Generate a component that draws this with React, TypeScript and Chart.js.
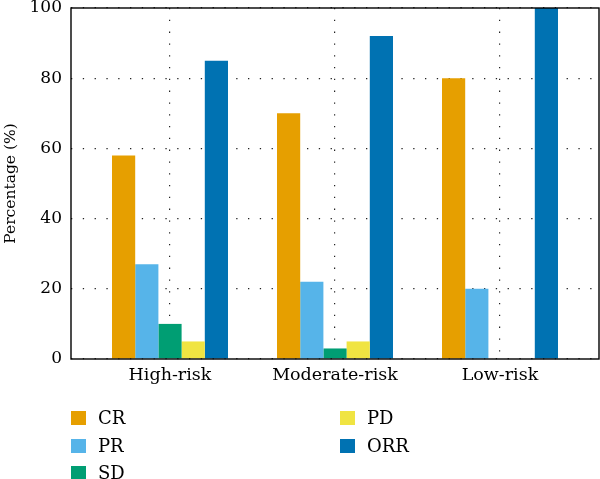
import React, { useEffect, useRef } from "react";
import { Chart, registerables } from "chart.js";

Chart.register(...registerables);

// Response rates by risk group
const categories = ["High-risk", "Moderate-risk", "Low-risk"];
const seriesNames = ["CR", "PR", "SD", "PD", "ORR"];
const crValues = [58, 70, 80];
const prValues = [27, 22, 20];
const sdValues = [10, 3, 0];
const pdValues = [5, 5, 0];
const orrValues = [85, 92, 100];
const yTicks = [0, 20, 40, 60, 80, 100];

const seriesValues = [crValues, prValues, sdValues, pdValues, orrValues];
const seriesColors = ["#E69F00", "#56B4E9", "#009E73", "#F0E442", "#0072B2"];

const FONT = "'DejaVu Serif', serif";

const framePlugin = {
  id: "frame",
  afterDatasetsDraw(chart: any) {
    const { ctx, chartArea } = chart;
    ctx.save();
    ctx.strokeStyle = "#000";
    ctx.lineWidth = 1.4;
    ctx.strokeRect(chartArea.left, chartArea.top, chartArea.right - chartArea.left, chartArea.bottom - chartArea.top);
    ctx.restore();
  },
};

export default function App() {
  const canvasRef = useRef<HTMLCanvasElement | null>(null);

  useEffect(() => {
    const canvas = canvasRef.current;
    if (!canvas) return;
    const chart = new Chart(canvas, {
      type: "bar",
      data: {
        datasets: seriesNames.map((name, s) => ({
          label: name,
          data: categories.map((_, i) => ({ x: i, y: seriesValues[s][i] })),
          backgroundColor: seriesColors[s],
          borderWidth: 0,
          categoryPercentage: 0.703,
          barPercentage: 1,
        })),
      },
      options: {
        animation: false,
        responsive: false,
        layout: { padding: { top: 8, right: 1, left: 0, bottom: 0 } },
        plugins: {
          legend: { display: false },
          tooltip: { enabled: false },
        },
        scales: {
          x: {
            type: "linear",
            min: -0.6,
            max: 2.6,
            offset: false,
            afterBuildTicks: (axis: any) => {
              axis.ticks = categories.map((_, i) => ({ value: i }));
            },
            afterFit: (axis: any) => {
              axis.height = 120;
              axis.paddingLeft = 0;
              axis.paddingRight = 0;
            },
            ticks: {
              callback: (v: any) => categories[v] ?? "",
              color: "#000",
              font: { family: FONT, size: 17.5 },
              padding: 6,
              maxRotation: 0,
              autoSkip: false,
            },
            grid: { color: "#222", lineWidth: 1.2, drawTicks: false, offset: false },
            border: { display: false, dash: [1.3, 10.5] },
          },
          y: {
            min: 0,
            max: 100,
            afterBuildTicks: (axis: any) => {
              axis.ticks = yTicks.map((v) => ({ value: v }));
            },
            afterFit: (axis: any) => {
              axis.width = 71;
              axis.paddingTop = 0;
              axis.paddingBottom = 0;
            },
            ticks: {
              color: "#000",
              font: { family: FONT, size: 17 },
              padding: 9,
            },
            grid: { color: "#222", lineWidth: 1.2, drawTicks: false },
            border: { display: false, dash: [1.3, 10.5] },
            title: {
              display: true,
              text: "Percentage (%)",
              color: "#000",
              font: { family: FONT, size: 15.5 },
              padding: { top: 2, bottom: 0 },
            },
          },
        },
      },
      plugins: [framePlugin],
    } as any);
    return () => chart.destroy();
  }, []);

  const legendRows = [
    { name: "CR", col: 0, row: 0 },
    { name: "PR", col: 0, row: 1 },
    { name: "SD", col: 0, row: 2 },
    { name: "PD", col: 1, row: 0 },
    { name: "ORR", col: 1, row: 1 },
  ];

  return (
    <div style={{ position: "fixed", left: 0, top: 0, width: 600, height: 479, background: "#fff" }}>
      <canvas ref={canvasRef} width={600} height={479} style={{ display: "block" }} />
      {legendRows.map((item) => {
        const idx = seriesNames.indexOf(item.name);
        const left = item.col === 0 ? 71 : 340;
        const cy = 418 + item.row * 27.5;
        return (
          <div key={item.name}>
            <div
              style={{
                position: "absolute",
                left,
                top: cy - 7,
                width: 15,
                height: 14,
                background: seriesColors[idx],
              }}
            />
            <div
              style={{
                position: "absolute",
                left: left + 27,
                top: cy - 12,
                height: 24,
                lineHeight: "24px",
                fontFamily: FONT,
                fontSize: 18,
                color: "#000",
                whiteSpace: "nowrap",
              }}
            >
              {item.name}
            </div>
          </div>
        );
      })}
    </div>
  );
}
